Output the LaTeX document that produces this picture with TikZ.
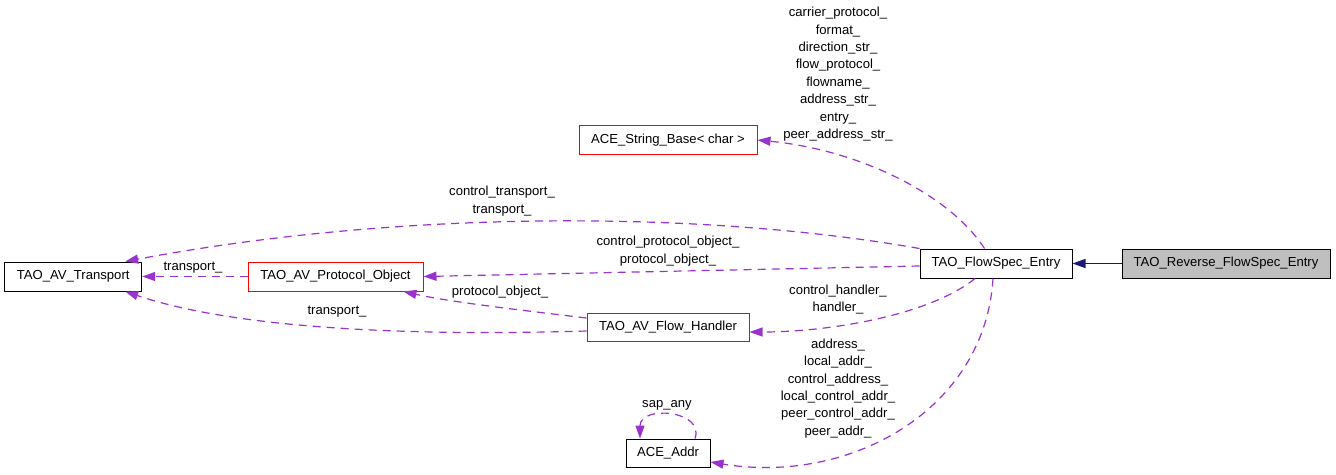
\documentclass[tikz,border=0pt]{standalone}
\usepackage{fontspec}
\setmainfont{Liberation Sans}
\usetikzlibrary{arrows.meta,calc}
\definecolor{edgepurple}{HTML}{9A32CD}
\definecolor{navyedge}{HTML}{191970}
\definecolor{boxgray}{HTML}{BFBFBF}
\begin{document}
\begin{tikzpicture}[x=1pt,y=-1pt,
  box/.style={draw=black,line width=1pt,minimum height=29pt,inner sep=0pt,font=\fontsize{13.1}{17.4}\selectfont},
  redbox/.style={box,draw=red},
  lbl/.style={font=\fontsize{13.1}{17.4}\selectfont,align=center,inner sep=0pt},
  dep/.style={draw=edgepurple,line width=1.2pt,dash pattern=on 8pt off 6pt,-{Triangle[length=13pt,width=9pt]}},
  inh/.style={draw=navyedge,line width=1.2pt,-{Triangle[length=13pt,width=9pt]}}]
\useasboundingbox (0,0) rectangle (1336,474);
\fill[white] (0,0) rectangle (1336,474);

\node[box,minimum width=137pt] (tr) at (73.2,276.5) {TAO\_AV\_Transport};
\node[redbox,minimum width=175pt] (po) at (335.5,276.5) {TAO\_AV\_Protocol\_Object};
\node[redbox,minimum width=178pt] (sb) at (668,140) {ACE\_String\_Base< char >};
\node[box,minimum width=152pt] (fs) at (996,263.5) {TAO\_FlowSpec\_Entry};
\node[box,fill=boxgray,minimum width=208pt] (rv) at (1226,263.5) {TAO\_Reverse\_FlowSpec\_Entry};
\node[redbox,minimum width=162pt,minimum height=28pt] (fh) at (668,327) {TAO\_AV\_Flow\_Handler};
\node[box,minimum width=84pt,minimum height=28pt] (ad) at (668,453) {ACE\_Addr};

\draw[dep] ($(fs.north west)+(65,0)$) .. controls (950,195) and (860,150) .. (sb.east);
\draw[dep] (fs.north west) .. controls (700,210) and (400,210) .. ($(tr.north)+(52,0)$);
\draw[dep] ($(fs.west)+(0,2.5)$) -- (po.east);
\draw[dep] (po.west) -- (tr.east);
\draw[dep] ($(fh.west)+(0,4)$) .. controls (420,336) and (240,330) .. ($(tr.south)+(52,0)$);
\draw[dep] ($(fh.west)+(0,-9)$) .. controls (520,310) and (450,302) .. ($(po.south)+(68,0)$);
\draw[dep] ($(fs.south)+(-21,0)$) .. controls (930,315) and (830,332) .. ($(fh.east)+(0,5)$);
\draw[dep] ($(fs.south)+(-3,0)$) .. controls (985,410) and (850,485) .. ($(ad.east)+(0,9)$);
\draw[dep] ($(ad.north)+(27,0)$) .. controls (705,410) and (640,405) .. ($(ad.north)+(-28,0)$);
\draw[inh] (rv.west) -- (fs.east);

\node[lbl] (l1) at (838,74.2) {carrier\_protocol\_\\format\_\\direction\_str\_\\flow\_protocol\_\\flowname\_\\address\_str\_\\entry\_\\peer\_address\_str\_};
\node[lbl] (l2) at (502,201) {control\_transport\_\\transport\_};
\node[lbl] (l3) at (193,268) {transport\_};
\node[lbl] (l4) at (668,251) {control\_protocol\_object\_\\protocol\_object\_};
\node[lbl] (l5) at (500,292) {protocol\_object\_};
\node[lbl] (l6) at (337,312) {transport\_};
\node[lbl] (l7) at (838,299.5) {control\_handler\_\\handler\_};
\node[lbl] (l8) at (838,388.5) {address\_\\local\_addr\_\\control\_address\_\\local\_control\_addr\_\\peer\_control\_addr\_\\peer\_addr\_};
\node[lbl] (l9) at (667,405) {sap\_any};
\end{tikzpicture}
\end{document}
